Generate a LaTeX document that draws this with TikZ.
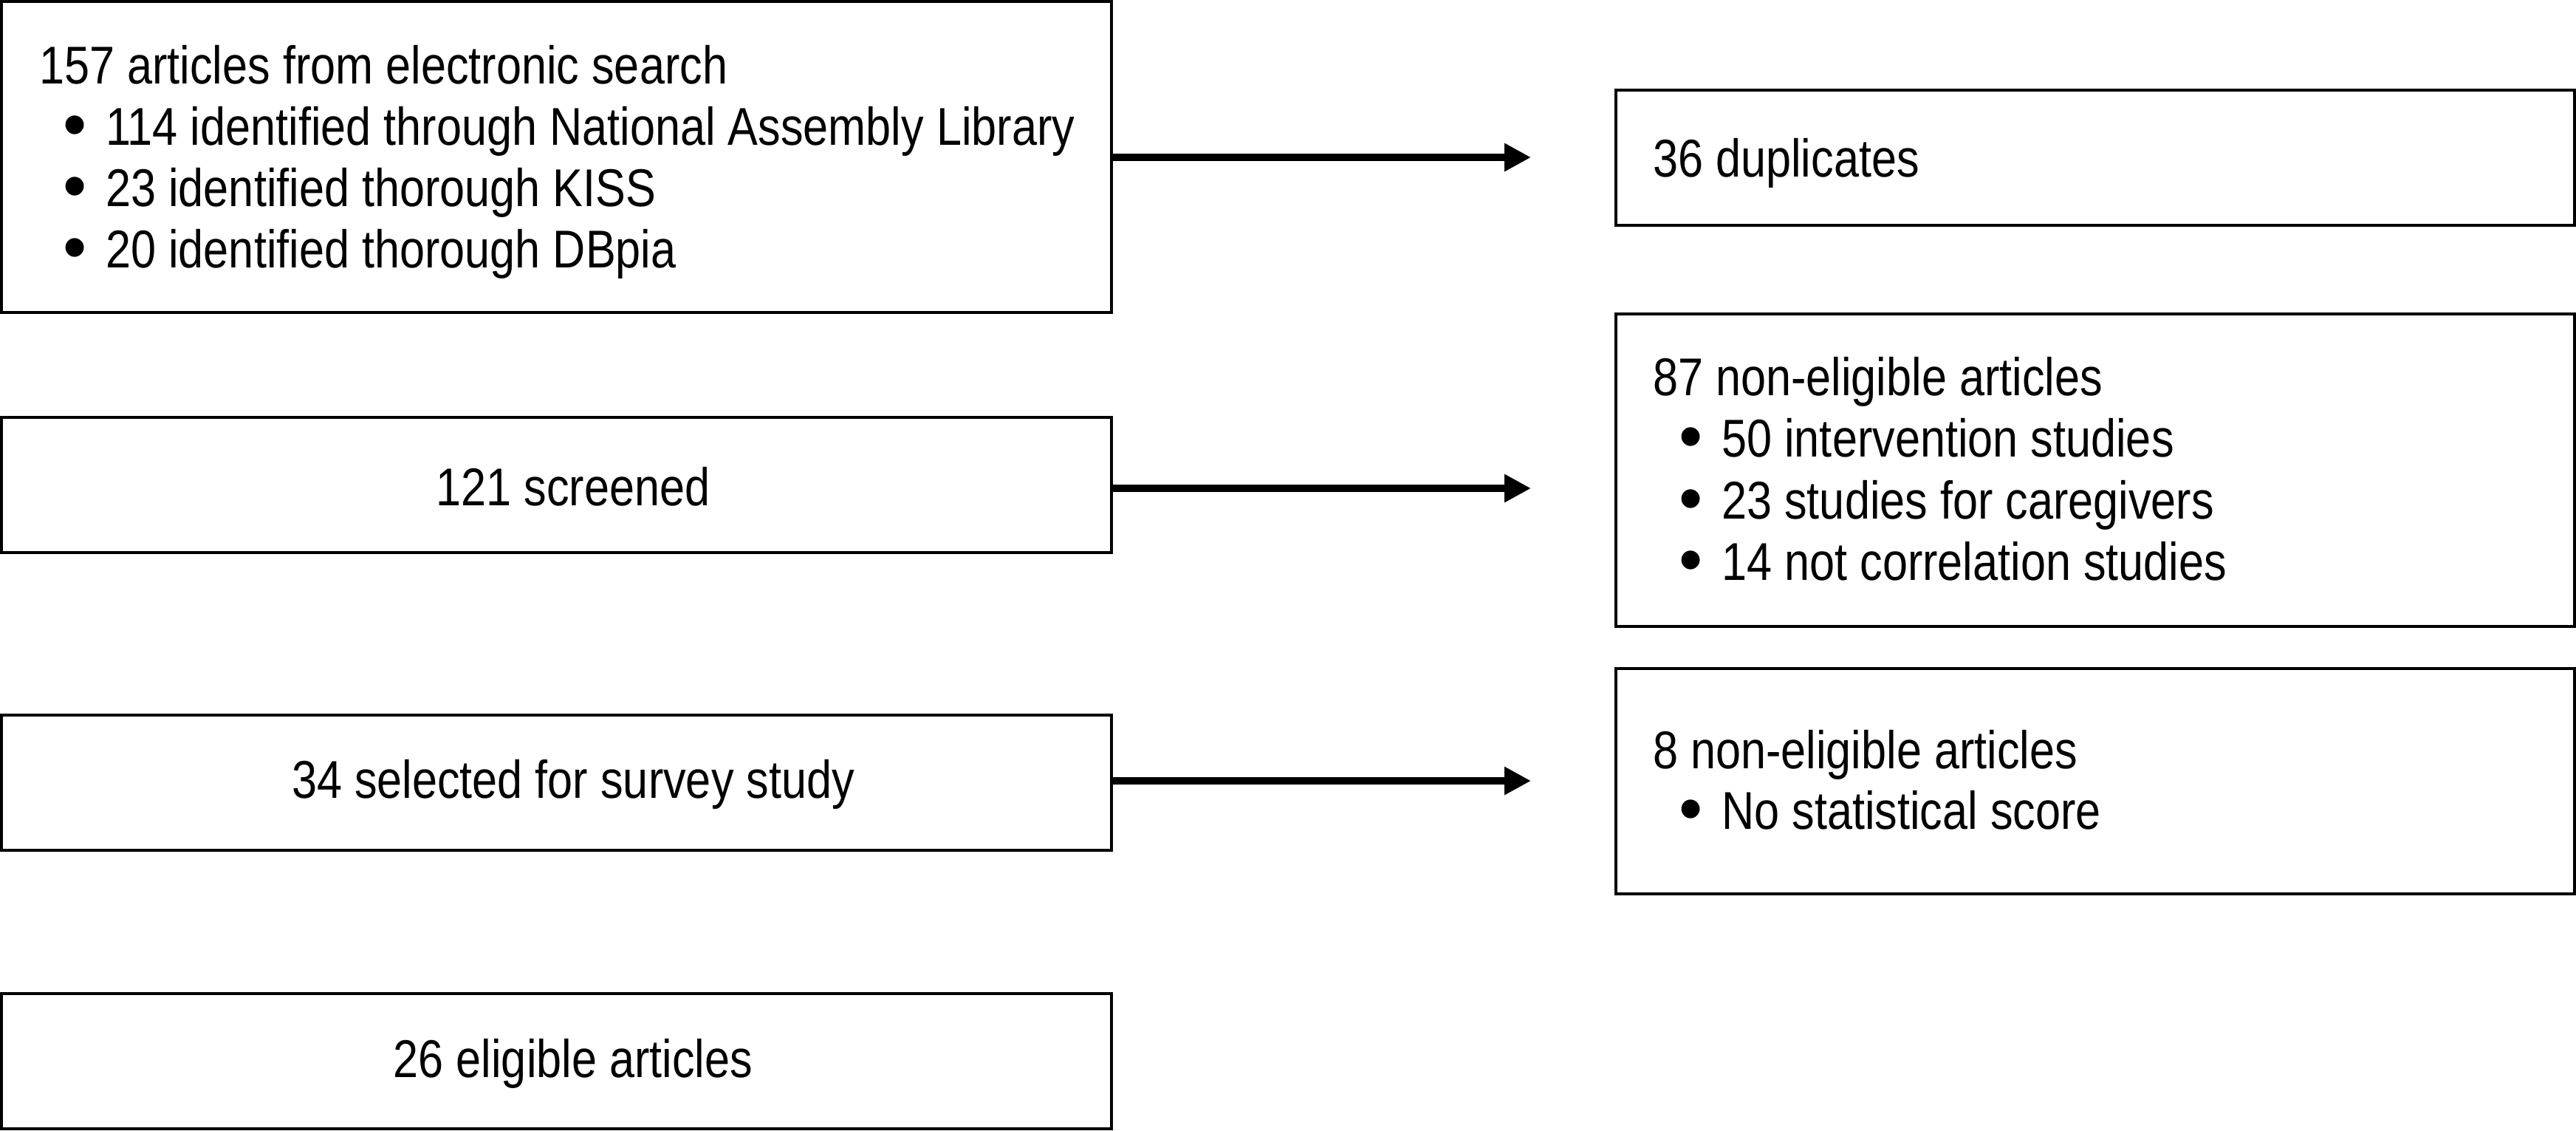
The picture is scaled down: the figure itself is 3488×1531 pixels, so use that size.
\documentclass[tikz,border=0pt]{standalone}
\usepackage{fontspec}
\setmainfont[FakeStretch=0.85]{Liberation Sans}
\usetikzlibrary{arrows.meta}
\begin{document}
\begin{tikzpicture}[x=1pt,y=-1pt,
  box/.style={draw=black, line width=3.5pt, rectangle, inner sep=0pt, outer sep=0pt, fill=none},
  txt/.style={anchor=base west, inner sep=0pt, font=\fontsize{72}{83}\selectfont},
  ctxt/.style={anchor=base, inner sep=0pt, font=\fontsize{72}{83}\selectfont},
  arr/.style={line width=10pt, -{Triangle[length=36pt,width=36pt]}}
]
\useasboundingbox (0,0) rectangle (3488,1531);
\newcommand{\bul}{\smash{\raisebox{-4pt}{\scalebox{1.5}[1.3]{\textbullet}}}\hspace{26pt}}
% boxes
\node[box, minimum width=1503pt, minimum height=421pt] (b1) at (753.5,212.5) {};
\node[box, minimum width=1298pt, minimum height=183pt] (r1) at (2837,213.5) {};
\node[box, minimum width=1503pt, minimum height=183pt] (b2) at (753.5,656.5) {};
\node[box, minimum width=1298pt, minimum height=423pt] (r2) at (2837,636.5) {};
\node[box, minimum width=1503pt, minimum height=183pt] (b3) at (753.5,1059.5) {};
\node[box, minimum width=1298pt, minimum height=305pt] (r3) at (2837,1057.5) {};
\node[box, minimum width=1503pt, minimum height=183pt] (b4) at (753.5,1436.5) {};
% texts box 1
\node[txt] (t1a) at (53,113) {157 articles from electronic search};
\node[txt] (t1b) at (85,196) {\bul 114 identified through National Assembly Library};
\node[txt] (t1c) at (85,279) {\bul 23 identified thorough KISS};
\node[txt] (t1d) at (85,362) {\bul 20 identified thorough DBpia};
% right boxes
\node[txt] (tr1) at (2238,239) {36 duplicates};
\node[txt] (tr2a) at (2238,535) {87 non-eligible articles};
\node[txt] (tr2b) at (2273,618) {\bul 50 intervention studies};
\node[txt] (tr2c) at (2273,702) {\bul 23 studies for caregivers};
\node[txt] (tr2d) at (2273,785) {\bul 14 not correlation studies};
\node[txt] (tr3a) at (2238,1040) {8 non-eligible articles};
\node[txt] (tr3b) at (2273,1122) {\bul No statistical score};
% centered
\node[ctxt] (t2) at (776,684) {121 screened};
\node[ctxt] (t3) at (776,1080) {34 selected for survey study};
\node[ctxt] (t4) at (776,1458) {26 eligible articles};
% arrows
\coordinate (e1) at (2073,213);
\coordinate (e2) at (2073,661);
\coordinate (e3) at (2073,1057);
\draw[arr] (b1.east |- e1) -- (e1);
\draw[arr] (b2.east |- e2) -- (e2);
\draw[arr] (b3.east |- e3) -- (e3);
\end{tikzpicture}
\end{document}
